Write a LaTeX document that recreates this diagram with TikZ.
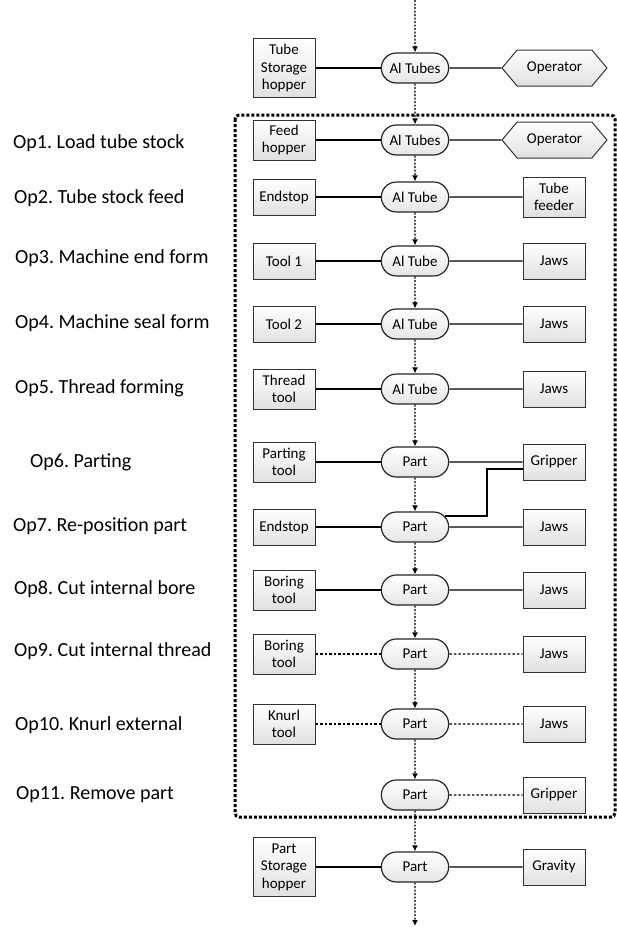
\documentclass[tikz,border=0pt]{standalone}
\usepackage{fontspec}
\setmainfont{Carlito}
\usetikzlibrary{shapes.misc,shapes.symbols,arrows.meta}

\tikzset{
  tool/.style={draw=black!80, line width=1pt, top color=white, bottom color=black!12,
    minimum width=62pt, minimum height=36pt, inner sep=1pt, align=center,
    font=\fontsize{15}{17.5}\selectfont},
  item/.style={rounded rectangle, draw=black!85, line width=1.2pt, top color=white,
    bottom color=black!10, minimum width=74pt, minimum height=30pt,
    font=\fontsize{15}{18}\selectfont},
  actor/.style={signal, signal to=west and east, signal pointer angle=100,
    draw=black!80, line width=1pt, top color=white, bottom color=black!12,
    minimum width=105pt, minimum height=36pt, inner sep=1pt,
    font=\fontsize{15}{18}\selectfont},
  link/.style={line width=1.4pt},
  loose/.style={line width=1.3pt, dash pattern=on 2.5pt off 2pt},
  flow/.style={line width=1.4pt, dash pattern=on 2pt off 1.5pt,
    -{Latex[length=6pt,width=6pt]}},
  frame/.style={line width=3pt, dash pattern=on 3pt off 2pt, rounded corners=4pt},
  oplabel/.style={anchor=west, inner sep=0pt, font=\fontsize{20}{24}\selectfont}
}

\begin{document}
\begin{tikzpicture}[x=1pt, y=-1pt]
  \useasboundingbox (0,0) rectangle (617,927);

  % dotted frame round the machine operations
  \draw[frame] (235,115) rectangle (615,817);

  % operation labels
  \foreach \n/\lx/\ly/\t in {1/13/143/Load tube stock, 2/14/198/Tube stock feed,
      3/15/258/Machine end form, 4/15/323/Machine seal form, 5/15/388/Thread forming,
      6/30/462/Parting, 7/13/526/Re-position part, 8/14/589/Cut internal bore,
      9/14/651/Cut internal thread, 10/15/725/Knurl external, 11/16/795/Remove part}
    \node[oplabel] (op\n) at (\lx,\ly) {Op\n.\ \t};

  % centre column
  \node[item] (p0)  at (415,68)  {Al Tubes};
  \node[item] (p1)  at (415,140) {Al Tubes};
  \node[item] (p2)  at (415,197) {Al Tube};
  \node[item] (p3)  at (415,261) {Al Tube};
  \node[item] (p4)  at (415,324) {Al Tube};
  \node[item] (p5)  at (415,389) {Al Tube};
  \node[item] (p6)  at (415,462) {Part};
  \node[item] (p7)  at (415,527) {Part};
  \node[item] (p8)  at (415,590) {Part};
  \node[item] (p9)  at (415,654) {Part};
  \node[item] (p10) at (415,724) {Part};
  \node[item] (p11) at (415,795) {Part};
  \node[item] (p12) at (415,867) {Part};

  % left column
  \node[tool, minimum height=59pt] (l0) at (284,68) {Tube\\Storage\\hopper};
  \node[tool, minimum height=40pt] (l1) at (284,140) {Feed\\hopper};
  \node[tool] (l2) at (284,197) {Endstop};
  \node[tool] (l3) at (284,261) {Tool 1};
  \node[tool] (l4) at (284,324) {Tool 2};
  \node[tool, minimum height=40pt] (l5) at (284,389) {Thread\\tool};
  \node[tool, minimum height=40pt] (l6) at (284,462) {Parting\\tool};
  \node[tool] (l7) at (284,527) {Endstop};
  \node[tool, minimum height=40pt] (l8) at (284,590) {Boring\\tool};
  \node[tool, minimum height=40pt] (l9) at (284,654) {Boring\\tool};
  \node[tool, minimum height=40pt] (l10) at (284,724) {Knurl\\tool};
  \node[tool, minimum height=59pt] (l12) at (284,867) {Part\\Storage\\hopper};

  % right column
  \node[actor] (r0) at (554.5,68) {Operator};
  \node[actor] (r1) at (554.5,140) {Operator};
  \node[tool, minimum height=40pt] (r2) at (554,197) {Tube\\feeder};
  \node[tool] (r3) at (554,261) {Jaws};
  \node[tool] (r4) at (554,324) {Jaws};
  \node[tool] (r5) at (554,389) {Jaws};
  \node[tool] (r6) at (554,462) {Gripper};
  \node[tool] (r7) at (554,527) {Jaws};
  \node[tool] (r8) at (554,590) {Jaws};
  \node[tool] (r9) at (554,654) {Jaws};
  \node[tool] (r10) at (554,724) {Jaws};
  \node[tool] (r11) at (554,795) {Gripper};
  \node[tool] (r12) at (554,867) {Gravity};

  % solid and loose links
  \foreach \i in {0,...,8,12} {
    \draw[link] (l\i) -- (p\i);
    \draw[link] (p\i) -- (r\i);
  }
  \foreach \i in {9,10} {
    \draw[loose] (l\i) -- (p\i);
    \draw[loose] (p\i) -- (r\i);
  }
  \draw[loose] (p11) -- (r11);
  \coordinate (g7) at (487,0);
  \draw[link] (p7.20) -- (p7.20 -| g7) |- ([yshift=-7pt]r6.west);

  % material flow
  \coordinate (in) at (415,0);
  \coordinate (out) at (415,926);
  \draw[flow] (in) -- (p0);
  \foreach \a/\b in {0/1,1/2,2/3,3/4,4/5,5/6,6/7,7/8,8/9,9/10,10/11,11/12}
    \draw[flow] (p\a) -- (p\b);
  \draw[flow] (p12) -- (out);
\end{tikzpicture}
\end{document}
